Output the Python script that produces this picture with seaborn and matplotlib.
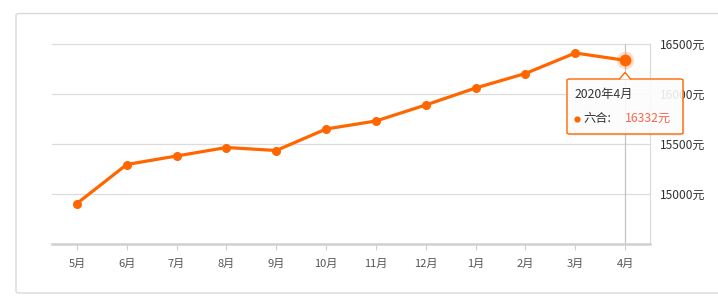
import matplotlib
matplotlib.use("Agg")
import matplotlib.pyplot as plt
import seaborn as sns
import pandas as pd
from matplotlib.patches import FancyBboxPatch, Polygon
from matplotlib.lines import Line2D

months = ['5月', '6月', '7月', '8月', '9月', '10月', '11月', '12月', '1月', '2月', '3月', '4月']
prices = [14900, 15290, 15375, 15460, 15430, 15645, 15725, 15885, 16055, 16200, 16405, 16332]
ytick_values = [15000, 15500, 16000, 16500]
tooltip_title = '2020年4月'
series_name = '六合'

sns.set_theme(style='white')
plt.rcParams['font.family'] = ['Noto Sans CJK SC', 'DejaVu Sans']

W, H = 718, 308
fig = plt.figure(figsize=(W / 100, H / 100), dpi=100)

def fx(px):
    return px / W

def fy(py):
    return 1 - py / H

# outer rounded box
box = FancyBboxPatch((fx(16), fy(293)), fx(740) - fx(16), fy(13.5) - fy(293),
                     boxstyle='round,pad=0,rounding_size=0.006', transform=fig.transFigure,
                     facecolor='none', edgecolor='#d9d9d9', linewidth=1.0, zorder=-1)
fig.patches.append(box)

left, right, top, bottom = 52, 650, 43.5, 243.5
ax = fig.add_axes([fx(left), fy(bottom), fx(right) - fx(left), fy(top) - fy(bottom)])
ax.set_facecolor('none')

df = pd.DataFrame({'month': months, 'price': prices})
color = '#ff6600'
sns.lineplot(data=df, x='month', y='price', sort=False, ax=ax, color=color,
             linewidth=2.3, marker='o', markersize=6.5, markeredgewidth=0, zorder=5)

ax.set_xlim(-0.5, len(months) - 0.5)
ax.set_ylim(14500, 16500)
ax.set_xlabel('')
ax.set_ylabel('')

# gridlines
for v in ytick_values:
    ax.axhline(v, color='#dcdcdc', linewidth=0.9, zorder=1, clip_on=False)

# crosshair at last category
ax.axvline(len(months) - 1, color='#c4c4c4', linewidth=0.9, zorder=2)

# highlighted last point
ax.plot([months[-1]], [prices[-1]], 'o', color=color, alpha=0.22, markersize=12.5,
        markeredgewidth=0, zorder=6, clip_on=False)
ax.plot([months[-1]], [prices[-1]], 'o', color=color, markersize=8.5,
        markeredgewidth=0, zorder=7, clip_on=False)

for s in ['top', 'left']:
    ax.spines[s].set_visible(False)
ax.spines['bottom'].set_color('#d0d0d0')
ax.spines['bottom'].set_linewidth(1.8)
ax.spines['right'].set_color('#dcdcdc')
ax.spines['right'].set_linewidth(0.9)

ax.yaxis.tick_right()
ax.set_yticks(ytick_values)
ax.set_yticklabels([f'{v}元' for v in ytick_values])
ax.tick_params(axis='y', length=0, pad=7.5, labelsize=8.6, labelcolor='#333333')
ax.set_xticks(range(len(months)))
ax.set_xticklabels(months)
ax.tick_params(axis='x', bottom=True, length=4, width=0.8, color='#d0d0d0', pad=7,
               labelsize=8, labelcolor='#555555')

# tooltip
tx0, tx1, ty0, ty1 = 567, 683, 79, 134
shadow = FancyBboxPatch((fx(tx0 + 1.5), fy(ty1 + 1.5)), fx(tx1) - fx(tx0), fy(ty0) - fy(ty1),
                        boxstyle='round,pad=0,rounding_size=0.004', transform=fig.transFigure,
                        facecolor='#000000', alpha=0.08, edgecolor='none', zorder=19)
fig.patches.append(shadow)
tip = FancyBboxPatch((fx(tx0), fy(ty1)), fx(tx1) - fx(tx0), fy(ty0) - fy(ty1),
                     boxstyle='round,pad=0,rounding_size=0.004', transform=fig.transFigure,
                     facecolor=(1, 1, 1, 0.88), edgecolor=color, linewidth=1.0, zorder=20)
fig.patches.append(tip)
arrow = Polygon([(fx(619), fy(79.5)), (fx(625), fy(72.5)), (fx(631), fy(79.5))],
                closed=False, transform=fig.transFigure, facecolor='white',
                edgecolor=color, linewidth=1.0, zorder=21)
fig.patches.append(arrow)

fig.text(fx(575), fy(94), tooltip_title, fontsize=8.8, color='#333333',
         va='center', ha='left', zorder=22)
fig.lines.append(Line2D([fx(577)], [fy(118.5)], marker='o', markersize=4.5, color=color,
                        markeredgewidth=0, transform=fig.transFigure, zorder=22))
fig.text(fx(583), fy(118), f'{series_name}:', fontsize=8.8, color='#333333',
         va='center', ha='left', zorder=22)
fig.text(fx(625), fy(118), f'{prices[-1]}元', fontsize=8.8, color='#fa6650',
         va='center', ha='left', zorder=22)

fig.savefig('out.png', dpi=100)
